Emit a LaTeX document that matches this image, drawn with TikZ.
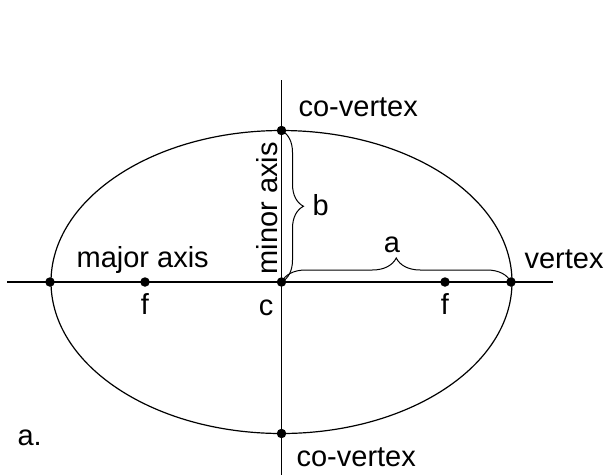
\documentclass[tikz,border=0pt]{standalone}
\usepackage{fontspec}
\setmainfont{Liberation Sans}
\usepackage{tikz}
\usetikzlibrary{positioning,decorations.pathreplacing}

\begin{document}
\begin{tikzpicture}[x=1pt,y=-1pt,line width=1.2pt,
  font=\fontsize{29}{34}\selectfont,
  pt/.style={circle,fill=black,inner sep=0pt,minimum size=9.5pt},
  lbl/.style={inner sep=0pt},
  brc/.style={decorate,line width=1pt}]
\useasboundingbox (0,0) rectangle (612,475);
% ellisse e assi
\draw (281.5,282) ellipse [x radius=230.5,y radius=151.5];
\coordinate (hl) at (7,282);   \coordinate (hr) at (553,282);
\coordinate (vt) at (281.5,80); \coordinate (vb) at (281.5,475);
\draw (hl) -- (hr);
\draw (vt) -- (vb);
% punti
\node[pt] (vL) at (50,282) {};
\node[pt] (fL) at (145,282) {};
\node[pt] (c)  at (281.5,282) {};
\node[pt] (fR) at (445,282) {};
\node[pt] (vR) at (511,282) {};
\node[pt] (cT) at (281.5,130.5) {};
\node[pt] (cB) at (281.5,433.5) {};
% graffe
\draw[brc,decoration={brace,amplitude=22pt}] (cT.center) -- (c.center);
\draw[brc,decoration={brace,amplitude=24pt}] (c.center) -- (vR.center);
% etichette
\node[lbl,anchor=base west] (tcv) at (298,116) {co-vertex};
\node[lbl,anchor=base west] (bcv) at (296,466) {co-vertex};
\node[lbl,anchor=base west] (maj) at (76,267) {major axis};
\node[lbl,anchor=base west] (ver) at (524,268) {vertex};
\node[lbl,anchor=base west,rotate=90] (min) at (277,275) {minor axis};
\node[lbl,anchor=base west] (lb) at (312,215) {b};
\node[lbl,anchor=base] (la) at (392,252) {a};
\node[lbl,anchor=base] (lc) at (266,315) {c};
\node[lbl,anchor=base] (lf1) at (145,314) {f};
\node[lbl,anchor=base] (lf2) at (445,314) {f};
\node[lbl,anchor=base west] (tag) at (17,445) {a.};
\end{tikzpicture}
\end{document}
